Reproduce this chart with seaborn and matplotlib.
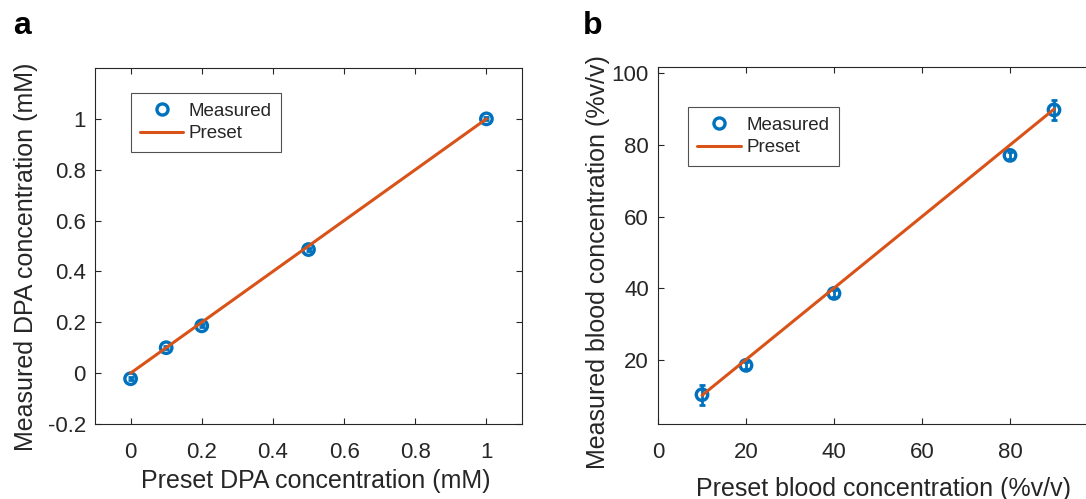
import matplotlib
matplotlib.use("Agg")
import matplotlib.pyplot as plt
import seaborn as sns
import numpy as np
import pandas as pd
from matplotlib.lines import Line2D

# Panel a data
dpa_preset = [0, 0.1, 0.2, 0.5, 1.0]
dpa_measured = [-0.022, 0.10, 0.186, 0.486, 1.0]
dpa_err = [0.006, 0.006, 0.006, 0.006, 0.006]

# Panel b data
blood_preset = [10, 20, 40, 80, 90]
blood_measured = [10.2, 18.4, 38.5, 77.1, 89.8]
blood_err = [2.8, 1.0, 1.0, 1.0, 2.8]

a_xticks = [0, 0.2, 0.4, 0.6, 0.8, 1]
a_xticklabels = ["0", "0.2", "0.4", "0.6", "0.8", "1"]
a_yticks = [-0.2, 0, 0.2, 0.4, 0.6, 0.8, 1]
a_yticklabels = ["-0.2", "0", "0.2", "0.4", "0.6", "0.8", "1"]
b_xticks = [0, 20, 40, 60, 80]
b_yticks = [20, 40, 60, 80, 100]

BLUE = "#0072BD"
ORANGE = "#D95319"
INK = "#262626"

sns.set_theme(style="white")
plt.rcParams["font.family"] = ["Liberation Sans", "DejaVu Sans"]

W, H = 1086, 499
fig = plt.figure(figsize=(W / 100, H / 100), dpi=100)

def pos(l, t, r, b):
    return [l / W, 1 - b / H, (r - l) / W, (b - t) / H]

axa = fig.add_axes(pos(95, 68, 522, 424))
axb = fig.add_axes(pos(658, 67, 1098, 424))

def style(ax):
    for s in ax.spines.values():
        s.set_color(INK)
        s.set_linewidth(0.8)
        s.set_visible(True)
    ax.tick_params(direction="in", length=4, width=0.8, colors=INK,
                   labelsize=16, labelcolor=INK, top=True, right=True,
                   bottom=True, left=True)
    ax.tick_params(axis="x", pad=13)
    ax.tick_params(axis="y", pad=6.5)

def panel(ax, xp, ym, err, xlabel, ylabel):
    df_m = pd.DataFrame({"x": xp, "y": ym})
    df_l = pd.DataFrame({"x": [xp[0], xp[-1]], "y": [xp[0], xp[-1]]})
    ax.errorbar(xp, ym, yerr=err, fmt="none", ecolor=BLUE, elinewidth=2,
                capsize=2.5, capthick=2, zorder=3)
    sns.scatterplot(data=df_m, x="x", y="y", ax=ax, marker="o", s=68,
                    facecolor="none", edgecolor=BLUE, linewidth=2.4, zorder=4)
    sns.lineplot(data=df_l, x="x", y="y", ax=ax, color=ORANGE, linewidth=2.2,
                 zorder=5)
    ax.set_xlabel(xlabel, fontsize=18, color=INK)
    ax.set_ylabel(ylabel, fontsize=18, color=INK)
    style(ax)

panel(axa, dpa_preset, dpa_measured, dpa_err,
      "Preset DPA concentration (mM)", "Measured DPA concentration (mM)")
axa.set_xlim(-0.1, 1.1)
axa.set_ylim(-0.2, 1.2)
axa.set_xticks(a_xticks, a_xticklabels)
axa.set_yticks(a_yticks, a_yticklabels)
axa.xaxis.set_label_coords((316 - 95) / 427, (424 - 469) / 356)
axa.yaxis.set_label_coords((38 - 95) / 427, (424 - 257) / 356)

panel(axb, blood_preset, blood_measured, blood_err,
      "Preset blood concentration (%v/v)", "Measured blood concentration (%v/v)")
axb.set_xlim(0, 100)
axb.set_ylim(2, 101.8)
axb.set_xticks(b_xticks, [str(v) for v in b_xticks])
axb.set_yticks(b_yticks, [str(v) for v in b_yticks])
axb.xaxis.set_label_coords((883 - 658) / 440, (424 - 477) / 357)
axb.yaxis.set_label_coords((610 - 658) / 440, (424 - 262) / 357)

handles = [
    Line2D([], [], marker="o", linestyle="none", markerfacecolor="none",
           markeredgecolor=BLUE, markeredgewidth=2.4, markersize=8),
    Line2D([], [], color=ORANGE, linewidth=2.2),
]
labels = ["Measured", "Preset"]
for ax, anchor in [(axa, (130.7, 93)), (axb, (688, 107))]:
    leg = ax.legend(handles, labels, loc="upper left",
                    bbox_to_anchor=(anchor[0] / W, 1 - anchor[1] / H),
                    bbox_transform=fig.transFigure, fontsize=13.5,
                    frameon=True, fancybox=False, borderpad=0.5,
                    handlelength=2.3, labelspacing=0.3, handletextpad=0.3,
                    borderaxespad=0)
    leg.get_frame().set_edgecolor(INK)
    leg.get_frame().set_linewidth(0.8)
    for t in leg.get_texts():
        t.set_color(INK)

fig.text(13 / W, 1 - 34 / H, "a", fontsize=23, fontweight="bold", color="black")
fig.text(583 / W, 1 - 34 / H, "b", fontsize=23, fontweight="bold", color="black")

fig.savefig("out.png", dpi=100)
